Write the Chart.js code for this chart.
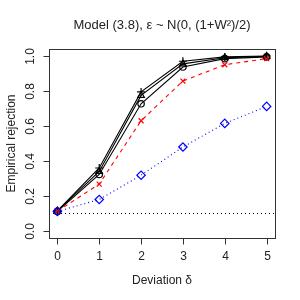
<!DOCTYPE html>
<html>
<head>
<meta charset="utf-8">
<script src="https://cdn.jsdelivr.net/npm/chart.js@4/dist/chart.umd.min.js"></script>
<style>
  html, body { margin: 0; padding: 0; background: #fff; }
  #wrap { width: 300px; height: 300px; }
</style>
</head>
<body>
<div id="wrap"><canvas id="c" width="300" height="300"></canvas></div>
<script>
// Data
const deviations = [0, 1, 2, 3, 4, 5];
const xTicks = [0, 1, 2, 3, 4, 5];
const yTicks = [0.0, 0.2, 0.4, 0.6, 0.8, 1.0];
const yTickLabels = ['0.0', '0.2', '0.4', '0.6', '0.8', '1.0'];
const seriesPlus = [0.115, 0.36, 0.795, 0.97, 0.995, 1.0];
const seriesTriangle = [0.115, 0.34, 0.775, 0.955, 0.99, 0.998];
const seriesCircle = [0.112, 0.323, 0.727, 0.937, 0.985, 0.995];
const seriesCross = [0.113, 0.268, 0.63, 0.857, 0.95, 0.985];
const seriesDiamond = [0.112, 0.18, 0.319, 0.48, 0.615, 0.712];
const nominalLevel = 0.1;

const xMin = -0.2, xMax = 5.2;
const yMin = -0.04, yMax = 1.04;
const FONT = '"Liberation Sans", Arial, Helvetica, sans-serif';
const INK = '#222';

const pts = vals => deviations.map((d, i) => ({ x: d, y: vals[i] }));

function series(vals, color, style, radius, dash) {
    return {
        data: pts(vals),
        borderColor: color,
        borderWidth: 1.1,
        borderDash: dash || [],
        pointStyle: style,
        pointRadius: radius,
        pointBorderColor: color,
        pointBackgroundColor: 'rgba(0,0,0,0)',
        pointBorderWidth: 1.2,
        tension: 0,
        fill: false
    };
}

// R-style box, ticks and labels drawn from the chart's own scales
const rAxes = {
    id: 'rAxes',
    afterDraw(chart) {
        const { ctx, chartArea: a, scales: { x, y } } = chart;
        ctx.save();
        ctx.strokeStyle = '#333';
        ctx.lineWidth = 1;
        ctx.strokeRect(Math.round(a.left) + 0.5, Math.round(a.top) + 0.5,
            Math.round(a.right - a.left), Math.round(a.bottom - a.top));

        ctx.fillStyle = INK;
        ctx.font = '12px ' + FONT;

        // x ticks
        ctx.textAlign = 'center';
        ctx.textBaseline = 'middle';
        ctx.beginPath();
        xTicks.forEach(t => {
            const px = Math.round(x.getPixelForValue(t)) + 0.5;
            ctx.moveTo(px, Math.round(a.bottom) + 0.5);
            ctx.lineTo(px, Math.round(a.bottom) + 6.5);
            ctx.fillText(String(t), px, a.bottom + 19);
        });
        ctx.stroke();

        // y ticks (rotated labels, as R's las = 0)
        ctx.beginPath();
        yTicks.forEach((t, i) => {
            const py = Math.round(y.getPixelForValue(t)) + 0.5;
            ctx.moveTo(Math.round(a.left) + 0.5, py);
            ctx.lineTo(Math.round(a.left) - 5.5, py);
            ctx.save();
            ctx.translate(a.left - 18, py);
            ctx.rotate(-Math.PI / 2);
            ctx.fillText(yTickLabels[i], 0, 0);
            ctx.restore();
        });
        ctx.stroke();

        // axis titles
        const cx = (a.left + a.right) / 2;
        const cy = (a.top + a.bottom) / 2;
        ctx.fillText('Deviation δ', cx, a.bottom + 43);
        ctx.save();
        ctx.translate(12, cy);
        ctx.rotate(-Math.PI / 2);
        ctx.fillText('Empirical rejection', 0, 0);
        ctx.restore();

        // main title
        ctx.font = '13px ' + FONT;
        ctx.fillText('Model (3.8), ε ~ N(0, (1+W²)/2)', cx, 25);
        ctx.restore();
    }
};

new Chart(document.getElementById('c'), {
    type: 'line',
    data: {
        datasets: [
            {
                data: [{ x: xMin, y: nominalLevel }, { x: xMax, y: nominalLevel }],
                borderColor: '#000',
                borderWidth: 1.1,
                borderDash: [1, 3],
                pointRadius: 0
            },
            series(seriesDiamond, '#0000ff', 'rectRot', 4.2, [1, 3]),
            series(seriesCross, '#ff0000', 'crossRot', 3.5, [4, 4]),
            series(seriesCircle, '#000', 'circle', 3.2),
            series(seriesTriangle, '#000', 'triangle', 3.8),
            series(seriesPlus, '#000', 'cross', 4)
        ]
    },
    options: {
        responsive: false,
        animation: false,
        layout: { padding: { left: 49, right: 25, top: 49, bottom: 62 } },
        plugins: { legend: { display: false }, title: { display: false }, tooltip: { enabled: false } },
        scales: {
            x: { type: 'linear', min: xMin, max: xMax, display: false },
            y: { type: 'linear', min: yMin, max: yMax, display: false }
        }
    },
    plugins: [rAxes]
});
</script>
</body>
</html>
